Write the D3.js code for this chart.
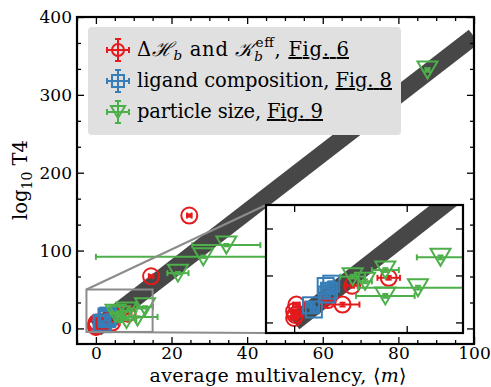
<!DOCTYPE html>
<html>
<head>
<meta charset="utf-8">
<script src="https://cdn.jsdelivr.net/npm/d3@7"></script>
<style>
body { margin: 0; background: #fff; }
</style>
</head>
<body>
<div id="chart"></div>
<script>
// red: dH_b and K_b^eff (Fig. 6)
var redX    = [0, 0, 0.2, 0.1, 3.0, 4.3, 5.15, 8.4, 14.6, 24.7];
var redY    = [1.9, 4.8, 7.6, 3.2, 9.5, 7.6, 15.6, 19.0, 67, 145];
var redXErr = [0.3, 0.3, 0.3, 0.3, 0.4, 1.5, 0.5, 1.0, 0.6, 0.6];
var redYErr = [0.8, 0.8, 0.8, 0.8, 0.8, 0.8, 0.8, 0.8, 1.5, 1.5];
// blue: ligand composition (Fig. 8)
var blueX    = [1.5, 1.75, 2.8, 2.9, 3.1, 3.3];
var blueY    = [7.3, 5.5, 15.5, 11.9, 13.5, 16.5];
var blueXErr = [0.3, 0.3, 0.3, 0.3, 0.3, 0.3];
var blueYErr = [1.0, 1.0, 1.0, 1.0, 1.0, 1.0];
// green: particle size (Fig. 9)
var greenX    = [5.2, 6.3, 8.1, 8.1, 11.0, 13.0, 21.7, 28.4, 34.5, 87.7];
var greenY    = [19.5, 17.5, 22.3, 11.3, 14.8, 27.7, 71, 92, 107, 332];
var greenXErr = [1.1, 0.6, 1.2, 2.6, 5.3, 2.1, 2.8, 28.4, 9.0, 0.5];
var greenYErr = [0.8, 0.8, 0.8, 0.8, 0.8, 0.8, 1.5, 1.5, 1.5, 2.0];

var xTicks = [0, 20, 40, 60, 80, 100];
var yTicks = [0, 100, 200, 300, 400];
var insetXTicks = [0, 10];
var insetYTicks = [0, 20, 40];
var bandX = [0, 100];
var bandY = [0, 375];

var FONT = "'DejaVu Serif', serif";
var svg = d3.select("#chart").append("svg").attr("width", 491).attr("height", 387)
  .style("font-family", FONT);

var x = d3.scaleLinear().domain([-5, 100]).range([77, 474]);
var y = d3.scaleLinear().domain([-20, 400]).range([344, 17]);
var xi = d3.scaleLinear().domain([-2.5, 15]).range([266, 463]);
var yi = d3.scaleLinear().domain([-4.5, 50]).range([333, 205]);

var RED = "#e41a1c", BLUE = "#377eb8", GREEN = "#4daf4a";

svg.append("clipPath").attr("id", "mainclip").append("rect")
  .attr("x", 77).attr("y", 17).attr("width", 397).attr("height", 327);
svg.append("clipPath").attr("id", "insetclip").append("rect")
  .attr("x", 266).attr("y", 205).attr("width", 197).attr("height", 128);

function drawSeries(g, sx, sy, xs, ys, xe, ye, color, shape, sz) {
  var pts = xs.map(function(d, i) { return {x: d, y: ys[i], xe: xe[i], ye: ye[i]}; });
  var grp = g.append("g").attr("stroke", color).attr("stroke-width", 2).attr("fill", "none");
  pts.forEach(function(p) {
    var cx = sx(p.x), cy = sy(p.y);
    var x0 = sx(p.x - p.xe), x1 = sx(p.x + p.xe), y0 = sy(p.y - p.ye), y1 = sy(p.y + p.ye);
    grp.append("line").attr("x1", x0).attr("x2", x1).attr("y1", cy).attr("y2", cy);
    grp.append("line").attr("x1", cx).attr("x2", cx).attr("y1", y0).attr("y2", y1);
    grp.append("line").attr("x1", x0).attr("x2", x0).attr("y1", cy - 3).attr("y2", cy + 3);
    grp.append("line").attr("x1", x1).attr("x2", x1).attr("y1", cy - 3).attr("y2", cy + 3);
    grp.append("line").attr("x1", cx - 3).attr("x2", cx + 3).attr("y1", y0).attr("y2", y0);
    grp.append("line").attr("x1", cx - 3).attr("x2", cx + 3).attr("y1", y1).attr("y2", y1);
    marker(grp, cx, cy, shape, sz);
  });
}

function marker(grp, cx, cy, shape, sz) {
  if (shape == "circle") {
    grp.append("circle").attr("cx", cx).attr("cy", cy).attr("r", sz / 2);
  } else if (shape == "square") {
    grp.append("rect").attr("x", cx - sz / 2).attr("y", cy - sz / 2).attr("width", sz).attr("height", sz);
  } else {
    var h = sz * 0.85;
    grp.append("path").attr("d", "M" + (cx - sz / 2) + "," + (cy - h / 2) + "L" + (cx + sz / 2) + "," + (cy - h / 2) + "L" + cx + "," + (cy + h / 2) + "Z")
      .attr("stroke-linejoin", "miter");
  }
}

function drawAll(g, sx, sy) {
  g.append("line").attr("x1", sx(bandX[0])).attr("y1", sy(bandY[0])).attr("x2", sx(bandX[1])).attr("y2", sy(bandY[1]))
    .attr("stroke", "#474747").attr("stroke-width", 17);
  drawSeries(g, sx, sy, redX, redY, redXErr, redYErr, RED, "circle", 16);
  drawSeries(g, sx, sy, blueX, blueY, blueXErr, blueYErr, BLUE, "square", 16);
  drawSeries(g, sx, sy, greenX, greenY, greenXErr, greenYErr, GREEN, "tri", 20);
}

// stretch a text to the width it has in the reference
function fitWidth(t, w) {
  t.attr("textLength", w).attr("lengthAdjust", "spacing");
}

// main plot
var main = svg.append("g").attr("clip-path", "url(#mainclip)");
drawAll(main, x, y);

// zoom rectangle + connectors
var gray = "#8c8c8c";
svg.append("rect").attr("x", x(-2.5)).attr("y", y(50)).attr("width", x(15) - x(-2.5)).attr("height", y(-4.5) - y(50))
  .attr("fill", "none").attr("stroke", gray).attr("stroke-width", 2);
svg.append("line").attr("x1", x(-2.5)).attr("y1", y(50)).attr("x2", 266).attr("y2", 205).attr("stroke", gray).attr("stroke-width", 2);
svg.append("line").attr("x1", x(-2.5)).attr("y1", y(-4.5)).attr("x2", 266).attr("y2", 333).attr("stroke", gray).attr("stroke-width", 2);

// legend
var legend = svg.append("g");
legend.append("rect").attr("x", 88).attr("y", 27).attr("width", 313).attr("height", 108).attr("rx", 4)
  .attr("fill", "#e0e0e0");
var legColors = [RED, BLUE, GREEN], legShapes = ["circle", "square", "tri"];
var legY = [50, 81, 112];
legY.forEach(function(ly, i) {
  var grp = legend.append("g").attr("stroke", legColors[i]).attr("stroke-width", 2).attr("fill", "none");
  grp.append("line").attr("x1", 107).attr("x2", 129).attr("y1", ly).attr("y2", ly);
  grp.append("line").attr("x1", 118).attr("x2", 118).attr("y1", ly - 11).attr("y2", ly + 11);
  grp.append("line").attr("x1", 107).attr("x2", 107).attr("y1", ly - 3).attr("y2", ly + 3);
  grp.append("line").attr("x1", 129).attr("x2", 129).attr("y1", ly - 3).attr("y2", ly + 3);
  grp.append("line").attr("x1", 115).attr("x2", 121).attr("y1", ly - 11).attr("y2", ly - 11);
  grp.append("line").attr("x1", 115).attr("x2", 121).attr("y1", ly + 11).attr("y2", ly + 11);
  marker(grp, 118, ly, legShapes[i], i == 2 ? 14 : 12);
});
var LF = 19.5, LS = 13.5;
function legText(ly) {
  return legend.append("text").attr("x", 137).attr("y", ly + 6).attr("font-size", LF);
}
var t1 = legText(legY[0]);
t1.append("tspan").text("Δ");
t1.append("tspan").attr("font-style", "italic").text("ℋ");
t1.append("tspan").attr("font-style", "italic").attr("font-size", LS).attr("dy", 4).text("b");
t1.append("tspan").attr("dy", -4).text(" and ");
t1.append("tspan").attr("font-style", "italic").text("𝒦");
t1.append("tspan").attr("font-style", "italic").attr("font-size", LS).attr("dy", 5).text("b");
t1.append("tspan").attr("font-size", LS).attr("dx", -8).attr("dy", -14).text("eff");
t1.append("tspan").attr("dy", 9).text(", ");
t1.append("tspan").attr("text-decoration", "underline").text("Fig. 6");
var t2 = legText(legY[1]);
t2.append("tspan").text("ligand composition, ");
t2.append("tspan").attr("text-decoration", "underline").text("Fig. 8");
var t3 = legText(legY[2]);
t3.append("tspan").text("particle size, ");
t3.append("tspan").attr("text-decoration", "underline").text("Fig. 9");
fitWidth(t1, 212);
fitWidth(t2, 255);
fitWidth(t3, 186);

// axes (ticks inward on all sides)
function inward(g, axis) {
  g.call(axis);
  g.attr("font-family", null);
  g.select(".domain").remove();
  g.selectAll(".tick line").attr("stroke", "#000").attr("stroke-width", 1.3);
  g.selectAll(".tick text").filter(function() { return this.textContent == ""; }).remove();
}
var xMinor = d3.range(-5, 101, 5).filter(function(v) { return xTicks.indexOf(v) < 0; });
var yMinor = d3.range(100 / 3, 400, 100 / 3).filter(function(v, i) { return (i + 1) % 3 != 0; });
inward(svg.append("g").attr("transform", "translate(0,344)"), d3.axisBottom(x).tickValues(xTicks).tickSize(-7).tickPadding(3).tickFormat(d3.format("d")));
inward(svg.append("g").attr("transform", "translate(0,344)"), d3.axisBottom(x).tickValues(xMinor).tickSize(-4).tickFormat(""));
inward(svg.append("g").attr("transform", "translate(0,17)"), d3.axisTop(x).tickValues(xTicks).tickSize(-7).tickFormat(""));
inward(svg.append("g").attr("transform", "translate(0,17)"), d3.axisTop(x).tickValues(xMinor).tickSize(-4).tickFormat(""));
inward(svg.append("g").attr("transform", "translate(77,0)"), d3.axisLeft(y).tickValues(yTicks).tickSize(-7).tickPadding(5).tickFormat(d3.format("d")));
inward(svg.append("g").attr("transform", "translate(77,0)"), d3.axisLeft(y).tickValues(yMinor).tickSize(-4).tickFormat(""));
inward(svg.append("g").attr("transform", "translate(474,0)"), d3.axisRight(y).tickValues(yTicks).tickSize(-7).tickFormat(""));
inward(svg.append("g").attr("transform", "translate(474,0)"), d3.axisRight(y).tickValues(yMinor).tickSize(-4).tickFormat(""));
svg.selectAll(".tick text").attr("font-size", 17).attr("fill", "#000").style("font-family", FONT);
svg.append("rect").attr("x", 77).attr("y", 17).attr("width", 397).attr("height", 327)
  .attr("fill", "none").attr("stroke", "#000").attr("stroke-width", 2.2);

// axis labels
var yl = svg.append("text").attr("transform", "translate(27,180) rotate(-90)").attr("text-anchor", "middle")
  .attr("font-size", 19.5);
yl.append("tspan").text("log");
yl.append("tspan").attr("font-size", 14).attr("dy", 5).text("10");
yl.append("tspan").attr("dy", -5).text(" T4");
fitWidth(yl, 80);
var xl = svg.append("text").attr("x", 278).attr("y", 382).attr("text-anchor", "middle").attr("font-size", 19);
xl.append("tspan").text("average multivalency, ⟨");
xl.append("tspan").attr("font-style", "italic").text("m");
xl.append("tspan").text("⟩");
fitWidth(xl, 257);

// inset
svg.append("rect").attr("x", 266).attr("y", 205).attr("width", 197).attr("height", 128).attr("fill", "#fff");
var inset = svg.append("g").attr("clip-path", "url(#insetclip)");
drawAll(inset, xi, yi);
inward(svg.append("g").attr("transform", "translate(0,333)"), d3.axisBottom(xi).tickValues(insetXTicks).tickSize(-7).tickFormat(""));
inward(svg.append("g").attr("transform", "translate(0,205)"), d3.axisTop(xi).tickValues(insetXTicks).tickSize(-7).tickFormat(""));
inward(svg.append("g").attr("transform", "translate(266,0)"), d3.axisLeft(yi).tickValues(insetYTicks).tickSize(-7).tickFormat(""));
inward(svg.append("g").attr("transform", "translate(463,0)"), d3.axisRight(yi).tickValues(insetYTicks).tickSize(-7).tickFormat(""));
svg.append("rect").attr("x", 266).attr("y", 205).attr("width", 197).attr("height", 128)
  .attr("fill", "none").attr("stroke", "#000").attr("stroke-width", 2.2);
</script>
</body>
</html>
